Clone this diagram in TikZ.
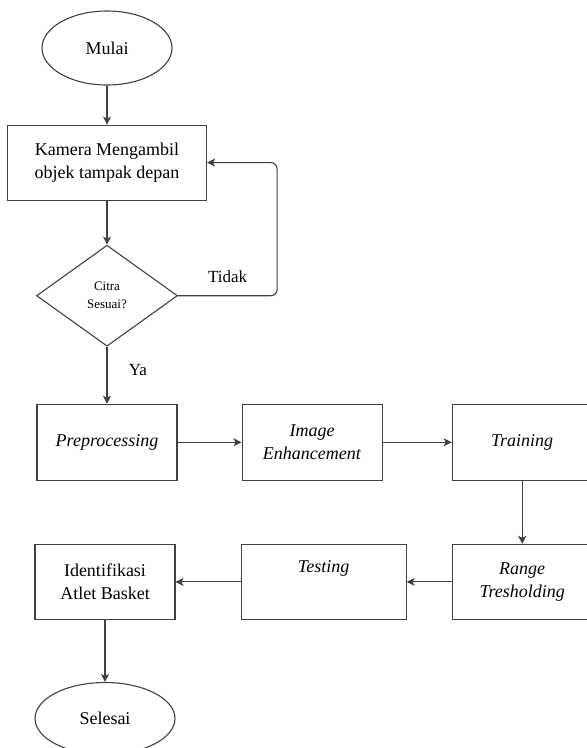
\documentclass[tikz,border=0pt]{standalone}
\usepackage{fontspec}
\setmainfont{Liberation Serif}
\usetikzlibrary{arrows.meta, positioning, shapes.geometric}
\tikzset{
  terminal/.style = {draw=black!75, line width=1.1pt, ellipse, align=center,
                     font=\fontsize{18}{23}\selectfont, inner sep=0pt,
                     minimum width=130pt, minimum height=74pt},
  process/.style  = {draw=black!75, line width=1.1pt, rectangle, align=center,
                     font=\fontsize{18}{23}\selectfont, inner sep=3pt,
                     minimum width=140pt, minimum height=76pt},
  decision/.style = {draw=black!75, line width=1.1pt, diamond, align=center,
                     font=\fontsize{13}{18}\selectfont, inner sep=0pt,
                     minimum width=141pt, minimum height=101pt},
  flow/.style     = {-{Stealth[length=8pt,width=8pt,inset=2pt]},
                     line width=1.1pt, black!75},
  branch/.style   = {font=\fontsize{17}{20}\selectfont, text=black},
}

\begin{document}
\begin{tikzpicture}
\useasboundingbox (0pt,0pt) rectangle (587pt,-748pt);

% ===== capture and check =====
\node[terminal] (mulai) at (107pt,-48pt) {Mulai};
\node[process, minimum width=199pt, minimum height=75pt,
      below=39pt of mulai] (kamera) {Kamera Mengambil\\objek tampak depan};
\node[decision, below=44pt of kamera] (cek) {Citra\\Sesuai?};
\coordinate[right=99pt of cek.east] (balik);

% ===== processing row =====
\node[process, below=57pt of cek] (pre) {\textit{Preprocessing}};
\node[process, right=64pt of pre] (enh) {\textit{Image}\\\textit{Enhancement}};
\node[process, right=69pt of enh] (train) {\textit{Training}};

% ===== result row (right to left) =====
\node[process, minimum height=75pt, below=63pt of train] (range)
  {\textit{Range}\\\textit{Tresholding}};
\node[process, minimum width=165pt, minimum height=75pt,
      left=45pt of range] (test) {\textit{Testing}\\\strut};
\node[process, minimum height=75pt, left=65pt of test] (ident)
  {Identifikasi\\Atlet Basket};
\node[terminal, minimum width=140pt, minimum height=72pt,
      below=62pt of ident] (selesai) {Selesai};

% ===== connectors =====
\draw[flow] (mulai) -- (kamera);
\draw[flow] (kamera) -- (cek);
\draw[flow, rounded corners=6pt] (cek.east)
  -- node[branch, above=9pt] {Tidak} (balik) |- (kamera.east);
\draw[flow] (cek.south) -- node[branch, right=18pt, pos=.4] {Ya} (pre.north);
\draw[flow] (pre) -- (enh);
\draw[flow] (enh) -- (train);
\draw[flow] (train) -- (range);
\draw[flow] (range) -- (test);
\draw[flow] (test) -- (ident);
\draw[flow] (ident) -- (selesai);

\end{tikzpicture}
\end{document}
